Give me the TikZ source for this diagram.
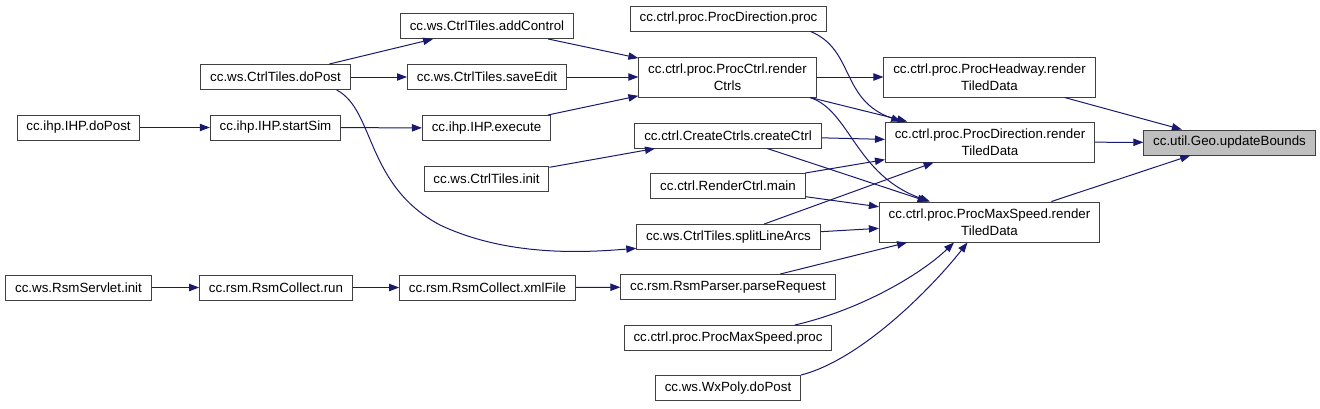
\documentclass[tikz,border=0pt]{standalone}
\usepackage{fontspec}
\setmainfont{Liberation Sans}
\usepackage{xcolor}
\usepackage{tikz}
\usetikzlibrary{arrows.meta}

\definecolor{edgeblue}{HTML}{191970}
\definecolor{boxgray}{HTML}{404040}

\begin{document}
\begin{tikzpicture}[
        x=0.75pt, y=-0.75pt,
        func/.style={rectangle, draw=boxgray, fill=white, line width=0.75pt, inner xsep=7pt, minimum height=18.75pt, font=\fontsize{10}{12.75}\selectfont, align=center},
        func2/.style={func, minimum height=30pt},
        current/.style={func, fill=gray!50},
        call/.style={-{Triangle[length=7.5pt, width=5.5pt]}, draw=edgeblue, line width=0.75pt}
    ]
    \useasboundingbox (0,0) rectangle (1320,408);

    % Nodes
    \node[func] (ihppost) at (78.5,127.5) {cc.ihp.IHP.doPost};
    \node[func] (startsim) at (275.5,127.5) {cc.ihp.IHP.startSim};
    \node[func] (tilespost) at (275.5,77) {cc.ws.CtrlTiles.doPost};
    \node[func] (rsminit) at (78.5,287.5) {cc.ws.RsmServlet.init};
    \node[func] (rsmrun) at (276,287.5) {cc.rsm.RsmCollect.run};

    \node[func] (addctrl) at (487,26) {cc.ws.CtrlTiles.addControl};
    \node[func] (saveedit) at (487,77) {cc.ws.CtrlTiles.saveEdit};
    \node[func] (execute) at (486.5,128) {cc.ihp.IHP.execute};
    \node[func] (tilesinit) at (486.5,178.5) {cc.ws.CtrlTiles.init};
    \node[func] (xmlfile) at (487.5,287.5) {cc.rsm.RsmCollect.xmlFile};

    \node[func] (dirproc) at (728.5,18.5) {cc.ctrl.proc.ProcDirection.proc};
    \node[func2] (renderctrls) at (727.5,77) {cc.ctrl.proc.ProcCtrl.render\\Ctrls};
    \node[func] (createctrl) at (728,135.5) {cc.ctrl.CreateCtrls.createCtrl};
    \node[func] (rcmain) at (728,186) {cc.ctrl.RenderCtrl.main};
    \node[func] (splitarcs) at (728.5,237) {cc.ws.CtrlTiles.splitLineArcs};
    \node[func] (parsereq) at (728,287) {cc.rsm.RsmParser.parseRequest};
    \node[func] (msproc) at (728,338) {cc.ctrl.proc.ProcMaxSpeed.proc};
    \node[func] (wxpost) at (728,388) {cc.ws.WxPoly.doPost};

    \node[func2] (headway) at (989.5,77) {cc.ctrl.proc.ProcHeadway.render\\TiledData};
    \node[func2] (dirrender) at (990,142) {cc.ctrl.proc.ProcDirection.render\\TiledData};
    \node[func2] (msrender) at (989.5,222) {cc.ctrl.proc.ProcMaxSpeed.render\\TiledData};

    \node[current] (geo) at (1229.5,142.5) {cc.util.Geo.updateBounds};

    % Edges
    \draw[call] (ihppost) -- (startsim);
    \draw[call] (startsim) -- (execute);
    \draw[call] (tilespost) -- (addctrl);
    \draw[call] (tilespost) -- (saveedit);
    \draw[call] (tilespost.-12) .. controls (375,110) and (365,185) .. (440,225)
        .. controls (510,258) and (590,252) .. (splitarcs.187);
    \draw[call] (rsminit) -- (rsmrun);
    \draw[call] (rsmrun) -- (xmlfile);

    \draw[call] (addctrl) -- (renderctrls);
    \draw[call] (saveedit) -- (renderctrls);
    \draw[call] (execute) -- (renderctrls);
    \draw[call] (tilesinit) -- (createctrl);
    \draw[call] (xmlfile) -- (parsereq);

    \draw[call] (renderctrls) -- (headway);
    \draw[call] (renderctrls) -- (dirrender);
    \draw[call] (renderctrls.-14) .. controls (850,110) and (855,175) .. (msrender.161);
    \draw[call] (dirproc.-9) .. controls (855,50) and (840,100) .. (dirrender.167);
    \draw[call] (createctrl) -- (dirrender);
    \draw[call] (createctrl) -- (msrender);
    \draw[call] (rcmain) -- (dirrender);
    \draw[call] (rcmain) -- (msrender);
    \draw[call] (splitarcs) -- (dirrender);
    \draw[call] (splitarcs) -- (msrender);
    \draw[call] (parsereq) -- (msrender);
    \draw[call] (msproc.11) .. controls (860,310) and (920,275) .. (msrender.210);
    \draw[call] (wxpost.north east) .. controls (860,360) and (930,290) .. (msrender.223);

    \draw[call] (headway) -- (geo);
    \draw[call] (dirrender) -- (geo);
    \draw[call] (msrender) -- (geo);

\end{tikzpicture}
\end{document}
